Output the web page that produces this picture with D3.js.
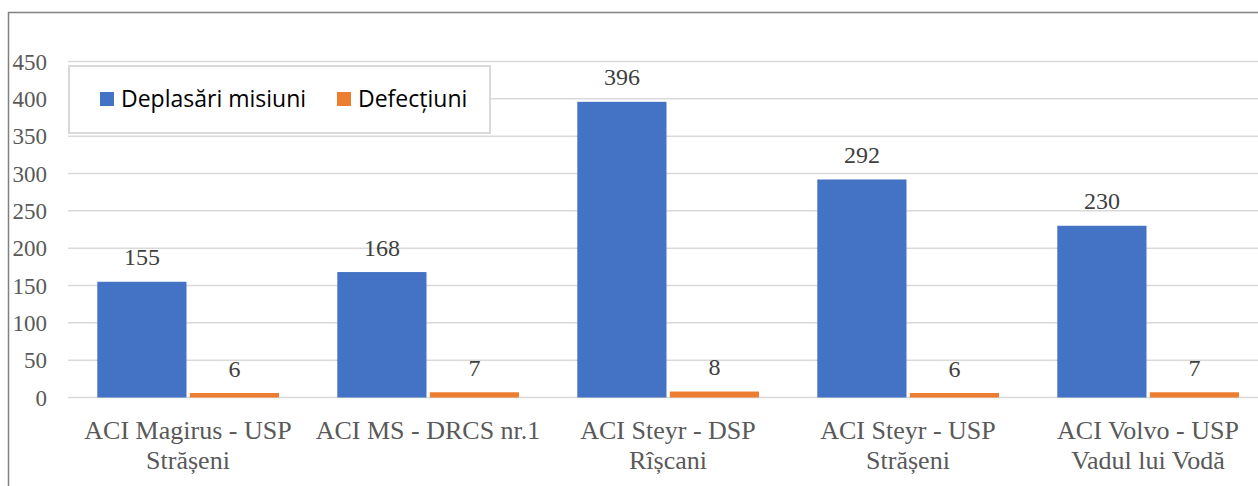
<!DOCTYPE html>
<html><head><meta charset="utf-8">
<script src="https://cdn.jsdelivr.net/npm/d3@7"></script>
<style>html,body{margin:0;padding:0;background:#fff;overflow:hidden}</style>
</head><body>
<svg id="chart" width="1258" height="486"></svg>
<script>
const categories = [
  ["ACI Magirus - USP", "Strășeni"],
  ["ACI MS - DRCS nr.1"],
  ["ACI Steyr - DSP", "Rîșcani"],
  ["ACI Steyr - USP", "Strășeni"],
  ["ACI Volvo - USP", "Vadul lui Vodă"]
];
const seriesNames = ["Deplasări misiuni", "Defecțiuni"];
const deplasari = [155, 168, 396, 292, 230];
const defectiuni = [6, 7, 8, 6, 7];
const yTicks = [0, 50, 100, 150, 200, 250, 300, 350, 400, 450];
const colors = ["#4472C4", "#ED7D31"];

const svg = d3.select("#chart");
const series = [deplasari, defectiuni];
const catKeys = categories.map(c => c.join(" "));
const serif = "'Liberation Serif', 'Times New Roman', serif";

const x = d3.scaleBand().domain(catKeys).range([68, 1268]).paddingInner(0).paddingOuter(0);
const xs = d3.scaleBand().domain([0, 1]).range([29.3, 211]).paddingInner(0.036).paddingOuter(0);
const y = d3.scaleLinear().domain([0, 450]).range([397.5, 61.5]);

// outer border
svg.append("rect").attr("x", 8.5).attr("y", 12.5).attr("width", 1400).attr("height", 600)
  .attr("fill", "none").attr("stroke", "#808080").attr("stroke-width", 1.5);

// gridlines
svg.append("g").selectAll("line").data(yTicks).join("line")
  .attr("x1", 68).attr("x2", 1258)
  .attr("y1", d => y(d)).attr("y2", d => y(d))
  .attr("stroke", "#d9d9d9").attr("stroke-width", 1.5);

// y axis labels
const yAxis = d3.axisLeft(y).tickValues(yTicks).tickSize(0).tickPadding(0);
const ya = svg.append("g").attr("transform", "translate(47,0)").call(yAxis);
ya.select(".domain").remove();
ya.selectAll("text").attr("font-family", serif)
  .attr("font-size", 23).attr("fill", "#595959").attr("dy", "0.34em");

// bars
const groups = svg.append("g").selectAll("g").data(catKeys).join("g")
  .attr("transform", d => `translate(${x(d)},0)`);
series.forEach((s, si) => {
  groups.append("rect")
    .attr("x", xs(si)).attr("width", xs.bandwidth())
    .attr("y", (d, i) => y(s[i])).attr("height", (d, i) => y(0) - y(s[i]))
    .attr("fill", colors[si]);
  groups.append("text")
    .attr("x", xs(si) + xs.bandwidth() / 2)
    .attr("y", (d, i) => y(s[i]) - 16.5)
    .attr("text-anchor", "middle")
    .attr("font-family", serif)
    .attr("font-size", 24).attr("fill", "#404040")
    .text((d, i) => s[i]);
});

// category labels
categories.forEach((lines, i) => {
  const cx = x(catKeys[i]) + x.bandwidth() / 2;
  const t = svg.append("text")
    .attr("x", cx)
    .attr("text-anchor", "middle")
    .attr("font-family", serif)
    .attr("font-size", 26).attr("fill", "#595959");
  lines.forEach((l, j) => t.append("tspan").attr("x", cx)
    .attr("y", 438.5 + j * 30).text(l));
});

// legend
const lg = svg.append("g");
lg.append("rect").attr("x", 69).attr("y", 66).attr("width", 421).attr("height", 67)
  .attr("fill", "#fff").attr("stroke", "#d9d9d9").attr("stroke-width", 2);
const legendX = [100, 337];
seriesNames.forEach((n, i) => {
  lg.append("rect").attr("x", legendX[i]).attr("y", 92).attr("width", 14).attr("height", 14)
    .attr("fill", colors[i]);
  lg.append("text").attr("x", legendX[i] + 21).attr("y", 106.5)
    .attr("font-family", "'Open Sans', 'Noto Sans', sans-serif").attr("font-size", 23)
    .attr("fill", "#000").text(n);
});
</script>
</body></html>
